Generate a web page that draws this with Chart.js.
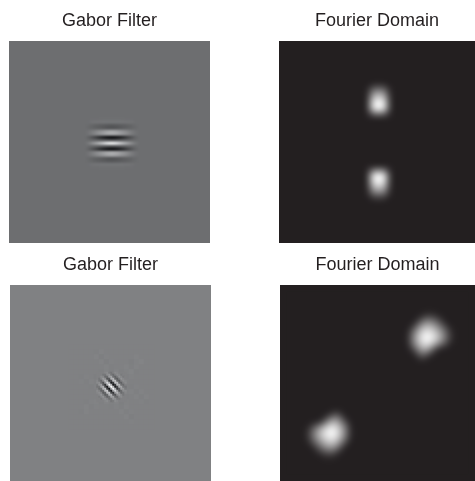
<!DOCTYPE html>
<html><head><meta charset="utf-8">
<style>html,body{margin:0;padding:0;background:#fff;overflow:hidden}canvas{position:absolute;display:block}</style>
<script src="https://cdn.jsdelivr.net/npm/chart.js@4"></script>
</head><body>
<canvas id="c0" style="left:9px;top:0" width="201" height="243"></canvas>
<canvas id="c1" style="left:279px;top:0" width="196" height="243"></canvas>
<canvas id="c2" style="left:10px;top:244px" width="201" height="237"></canvas>
<canvas id="c3" style="left:280px;top:244px" width="195" height="237"></canvas>
<script>
const gaborTitle = "Gabor Filter";
const fourierTitle = "Fourier Domain";

// Grey levels
const gaborHorizontal = [
[109,110,110,110,111,111,111,111,111,111,111,111,111,110,110,110,109],
[110,113,115,116,116,117,117,117,117,117,117,117,116,116,115,113,110],
[107,103,99,96,94,92,90,88,87,88,90,92,94,96,99,103,107],
[106,102,98,95,92,88,84,81,79,81,84,88,92,95,98,102,106],
[113,120,127,136,144,151,160,166,170,166,160,151,144,136,127,120,113],
[114,121,130,140,149,157,166,172,175,172,166,157,149,140,130,121,114],
[101,87,72,56,38,24,12,4,0,4,12,24,38,56,72,87,101],
[107,104,102,99,95,92,89,85,84,85,89,92,95,99,102,104,107],
[119,135,153,170,189,208,229,246,255,246,229,208,189,170,153,135,119],
[107,104,102,99,95,92,89,85,84,85,89,92,95,99,102,104,107],
[101,87,72,56,38,24,12,4,0,4,12,24,38,56,72,87,101],
[114,121,130,140,149,157,166,172,175,172,166,157,149,140,130,121,114],
[113,120,127,136,144,151,160,166,170,166,160,151,144,136,127,120,113],
[106,102,98,95,92,88,84,81,79,81,84,88,92,95,98,102,106],
[107,103,99,96,94,92,90,88,87,88,90,92,94,96,99,103,107],
[110,113,115,116,116,117,117,117,117,117,117,117,116,116,115,113,110],
[109,110,110,110,111,111,111,111,111,111,111,111,111,110,110,110,109]
];
const fourierUpperDot = [
[35,36,38,40,40,40,38,36,35],
[36,41,48,53,55,53,48,41,36],
[38,49,68,81,85,81,68,49,38],
[40,60,94,118,125,118,94,60,40],
[43,71,120,155,165,155,120,71,43],
[45,83,146,191,205,191,146,83,45],
[47,92,168,224,240,224,168,92,47],
[48,97,178,237,255,237,178,97,48],
[47,91,165,219,235,219,165,91,47],
[43,71,120,155,165,155,120,71,43],
[38,50,71,86,90,86,71,50,38],
[36,39,43,47,48,47,43,39,36]
];
const fourierLowerDot = [
[36,39,43,47,48,47,43,39,36],
[38,50,71,86,90,86,71,50,38],
[43,71,120,155,165,155,120,71,43],
[47,91,165,219,235,219,165,91,47],
[48,97,178,237,255,237,178,97,48],
[47,92,168,224,240,224,168,92,47],
[45,83,146,191,205,191,146,83,45],
[43,71,120,155,165,155,120,71,43],
[40,60,94,118,125,118,94,60,40],
[38,49,68,81,85,81,68,49,38],
[36,41,48,53,55,53,48,41,36],
[35,36,38,40,40,40,38,36,35]
];
const gaborDiagonalCore = [
[128,128,128,128,129,130,127,125,128,130,129,128,128,128,128],
[128,128,128,126,126,131,134,126,121,128,131,129,127,128,128],
[128,128,130,129,120,121,139,143,123,115,127,133,129,127,128],
[128,126,129,138,131,105,109,153,156,119,111,127,133,129,128],
[129,126,120,131,158,137,75,93,167,166,118,111,128,131,129],
[130,131,121,105,137,195,145,43,80,174,166,119,115,128,130],
[127,134,139,109,75,145,236,151,29,80,167,156,123,121,128],
[125,126,143,153,93,43,151,255,151,43,93,153,143,126,125],
[128,121,123,156,167,80,29,151,236,145,75,109,139,134,127],
[130,128,115,119,166,174,80,43,145,195,137,105,121,131,130],
[129,131,128,111,118,166,167,93,75,137,158,131,120,126,129],
[128,129,133,127,111,119,156,153,109,105,131,138,129,126,128],
[128,127,129,133,127,115,123,143,139,121,120,129,130,128,128],
[128,128,127,129,131,128,121,126,134,131,126,126,128,128,128],
[128,128,128,128,129,130,128,125,127,130,129,128,128,128,128]
];
const gaborDiagonalHalo = [
[128,128,128,128,128,128,128,128,128,128,128,128,128,128,128,128,128],
[128,128,128,128,128,127,130,128,128,128,128,128,128,128,128,128,128],
[128,128,128,128,128,130,126,129,128,128,128,128,128,130,128,128,128],
[128,128,128,128,128,128,130,126,129,128,128,128,126,129,131,128,128],
[128,128,128,128,128,128,128,130,127,128,128,130,127,130,128,128,128],
[128,128,128,128,128,128,127,130,127,130,127,129,131,127,128,128,128],
[128,128,127,129,128,126,129,127,129,127,130,127,129,128,128,128,128],
[128,128,129,127,130,128,130,128,128,128,128,129,128,128,128,128,128],
[128,128,128,128,127,129,127,128,128,128,128,128,127,129,128,128,128],
[128,128,128,128,128,128,128,128,128,128,128,129,130,127,130,128,128],
[128,128,128,128,128,128,129,127,128,128,129,127,128,130,127,130,128],
[128,128,128,127,129,130,127,130,128,130,126,129,128,128,129,127,128],
[128,128,128,130,127,129,128,128,127,129,127,130,128,128,128,128,128],
[128,128,127,130,128,128,128,128,128,128,130,127,129,128,128,128,128],
[128,128,128,128,128,128,128,128,128,128,128,130,126,128,128,128,128],
[128,128,128,128,128,128,128,128,128,128,128,128,129,128,128,128,128],
[128,128,128,128,128,128,128,128,128,128,128,128,128,128,128,128,128]
];
const fourierUpperLobe = [
[35,35,35,35,35,36,38,38,37,35,35,35,35],
[35,35,35,35,38,47,62,58,52,42,36,35,35],
[35,35,35,36,56,80,103,97,80,62,42,35,35],
[35,35,36,53,88,130,150,145,118,88,62,43,35],
[35,35,47,80,127,175,197,186,157,121,85,57,38],
[35,36,58,106,160,211,236,220,189,151,106,67,41],
[35,36,62,115,175,228,255,238,200,157,109,69,42],
[35,36,62,112,166,211,234,208,175,130,88,58,38],
[35,35,53,88,133,178,189,154,106,71,53,41,35],
[35,35,39,60,100,130,124,85,53,36,35,35,35],
[35,35,35,39,67,80,71,50,36,35,35,35,35],
[35,35,35,35,41,47,39,35,35,35,35,35,35]
];
const fourierLowerLobe = [
[35,35,35,35,35,35,39,47,41,35,35,35,35],
[35,35,35,35,36,50,71,80,67,39,35,35,35],
[35,35,35,36,53,85,124,130,100,60,39,35,35],
[35,41,53,71,106,154,189,178,133,88,53,35,35],
[38,58,88,130,175,208,234,211,166,112,62,36,35],
[42,69,109,157,200,238,255,228,175,115,62,36,35],
[41,67,106,151,189,220,236,211,160,106,58,36,35],
[38,57,85,121,157,186,197,175,127,80,47,35,35],
[35,43,62,88,118,145,150,130,88,53,36,35,35],
[35,35,42,62,80,97,103,80,56,36,35,35,35],
[35,35,36,42,52,58,62,47,38,35,35,35,35],
[35,35,35,35,37,38,38,36,35,35,35,35,35]
];

function gaborColor(v){return `rgb(${v},${Math.min(255,v+1)},${Math.min(255,v+3)})`;}
function contrastColor(v){
  const d=(v-128)/127, w=Math.sign(d)*Math.pow(Math.abs(d),0.62);
  return gaborColor(Math.round(Math.max(0,Math.min(255,128+127*w))));
}
function fourierColor(v){
  const g=Math.round(35+220*Math.pow((v-35)/220,0.66)),k=(255-g)/220;
  return `rgb(${g},${Math.round(g-4*k)},${Math.round(g-3*k)})`;
}

function layer(rows,x0,y0,cell,color){
  const data=[],colors=[];
  rows.forEach((row,r)=>row.forEach((v,c)=>{
    data.push({x:x0+c*cell,y:y0+r*cell});colors.push(color(v));
  }));
  return {data,pointBackgroundColor:colors,pointBorderWidth:0,pointStyle:'rect',
    pointRadius:(cell+0.5)*Math.SQRT1_2,pointHoverRadius:0,showLine:false,clip:false};
}

const fieldAndBlur={
  id:'fieldAndBlur',
  beforeDatasetsDraw(chart,args,o){
    const a=chart.chartArea,ctx=chart.ctx;
    ctx.save();ctx.fillStyle=o.field;ctx.fillRect(a.left,a.top,a.right-a.left,a.bottom-a.top);ctx.restore();
  },
  afterDatasetsDraw(chart,args,o){
    const a=chart.chartArea,ctx=chart.ctx;
    ctx.save();
    ctx.beginPath();ctx.rect(a.left+6,a.top+6,a.right-a.left-12,a.bottom-a.top-12);ctx.clip();
    ctx.filter=`blur(${o.blur}px)`;
    ctx.drawImage(chart.canvas,0,0);
    ctx.restore();
  }
};

function panel(id,title,w,h,field,blur,datasets){
  new Chart(document.getElementById(id),{
    type:'scatter',
    data:{datasets},
    plugins:[fieldAndBlur],
    options:{
      responsive:false,animation:false,events:[],
      layout:{padding:0,autoPadding:false},
      scales:{
        x:{type:'linear',display:false,min:0,max:w},
        y:{type:'linear',display:false,min:0,max:h,reverse:true}
      },
      plugins:{
        legend:{display:false},tooltip:{enabled:false},
        fieldAndBlur:{field,blur},
        title:{display:true,text:title,color:'#231f20',align:'center',
          font:{family:'"Liberation Sans",Arial,sans-serif',size:18,weight:'normal',lineHeight:1.2},
          padding:{top:10,bottom:9.4}}
      }
    }
  });
}

panel('c0',gaborTitle,201,202,gaborColor(109),1,[layer(gaborHorizontal,79,78.5,3,gaborColor)]);
panel('c1',fourierTitle,196,202,'rgb(35,31,32)',2,[
  layer(fourierUpperDot,88,43,3,fourierColor),
  layer(fourierLowerDot,88,126,3,fourierColor)]);
// The first dataset is painted last, so the core goes ahead of the halo
panel('c2',gaborTitle,201,196,gaborColor(128),0.45,[
  layer(gaborDiagonalCore,87.5,88,2,contrastColor),
  layer(gaborDiagonalHalo,61.5,62,5,gaborColor)]);
panel('c3',fourierTitle,195,196,'rgb(35,31,32)',3,[
  layer(fourierUpperLobe,123,29,4,fourierColor),
  layer(fourierLowerLobe,28,128,4,fourierColor)]);
</script>
</body></html>
